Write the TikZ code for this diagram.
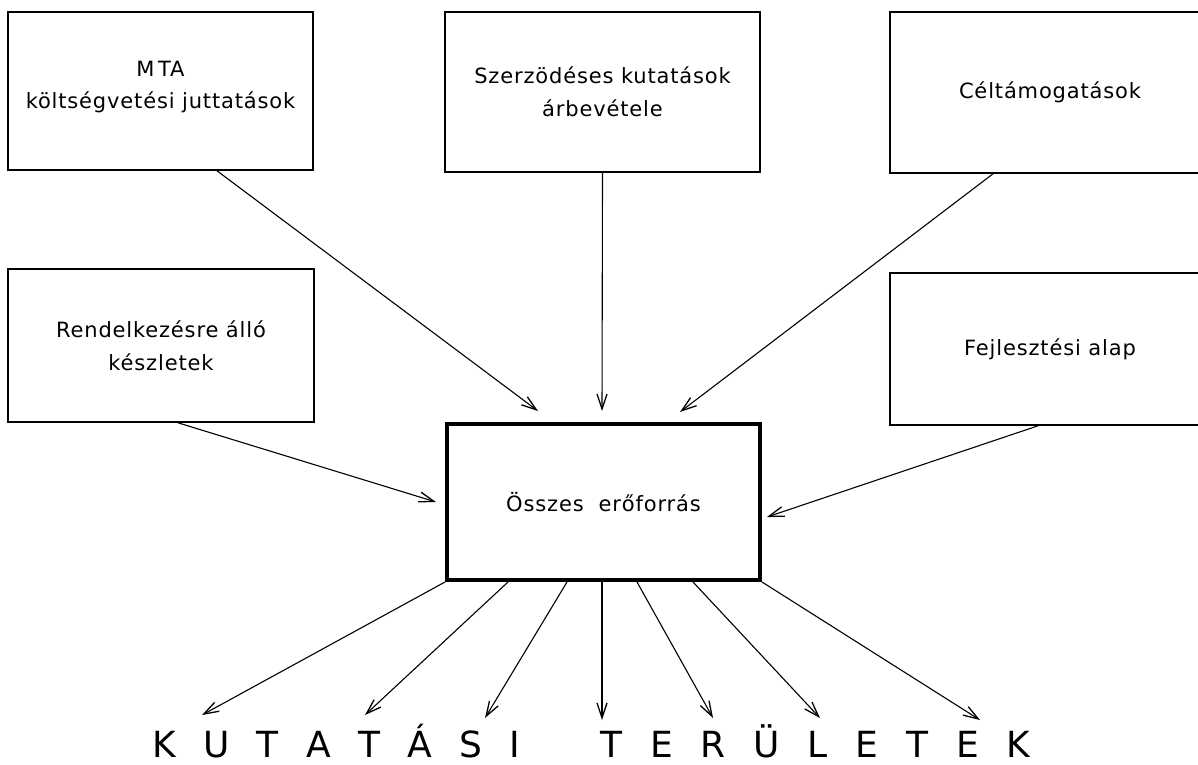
\documentclass[tikz,border=0pt]{standalone}
\usepackage{fontspec}
\setmainfont{DejaVu Sans}[LetterSpace=4]
\usetikzlibrary{arrows.meta}
\tikzset{
  srcbox/.style={draw, line width=1.6pt, inner sep=0pt, align=center,
    font=\fontsize{21}{33}\selectfont},
  hubbox/.style={draw, line width=4pt, inner sep=0pt, align=center,
    font=\fontsize{21}{33}\selectfont},
  arr/.style={line width=1.1pt, -{Straight Barb[length=15pt,width=10pt,line width=1.3pt]}},
  bigword/.style={inner sep=0pt, anchor=base west, text depth=0pt,
    font=\fontsize{36}{40}\selectfont}
}
\begin{document}
\begin{tikzpicture}[x=1pt,y=-1pt]
\useasboundingbox (0,0) rectangle (1198,764);
\clip (0,0) rectangle (1198,764);

% source boxes
\node[srcbox, minimum width=305pt, minimum height=158pt] (mta) at (160.5,91) {};
\node[align=center, inner sep=0pt, font=\fontsize{21}{33}\selectfont] (mtatext)
  at (160.5,87) {M\,TA\\[-1pt]költségvetési juttatások};
\node[srcbox, minimum width=315pt, minimum height=160pt] (szerz) at (602.5,92)
  {Szerzödéses kutatások\\árbevétele};
\node[srcbox, minimum width=320pt, minimum height=161pt] (celt) at (1050,92.5)
  {Céltámogatások};
\node[srcbox, minimum width=306pt, minimum height=153pt] (rend) at (161,345.5)
  {Rendelkezésre álló\\készletek};
\node[srcbox, minimum width=320pt, minimum height=152pt] (fejl) at (1050,349)
  {Fejlesztési\ alap};

% central box
\node[hubbox, minimum width=313pt, minimum height=156pt] (ctr) at (603.5,502)
  {Összes\ \ erőforrás};

% inflows
\draw[arr] ([xshift=56.5pt]mta.south) -- ([xshift=-65.5pt,yshift=11pt]ctr.north);
\draw[arr] (szerz.south) -- ([xshift=-1.5pt,yshift=11pt]ctr.north);
\draw[arr] ([xshift=-57pt]celt.south) -- ([xshift=76.5pt,yshift=10pt]ctr.north);
\draw[arr] ([xshift=17pt]rend.south) -- ([xshift=-9pt]ctr.west);
\draw[arr] ([xshift=-12pt]fejl.south) -- ([xshift=5pt,yshift=-15pt]ctr.east);

% research areas
\coordinate (t1) at (202,715);
\coordinate (t2) at (365,715);
\coordinate (t3) at (485,718);
\coordinate (t4) at (602,720);
\coordinate (t5) at (713,718);
\coordinate (t6) at (820,718);
\coordinate (t7) at (980,720);
\draw[arr] (ctr.south west) -- (t1);
\draw[arr] ([xshift=-95.5pt]ctr.south) -- (t2);
\draw[arr] ([xshift=-36.5pt]ctr.south) -- (t3);
\draw[arr] ([xshift=-1.5pt]ctr.south) -- (t4);
\draw[arr] ([xshift=33.5pt]ctr.south) -- (t5);
\draw[arr] ([xshift=89.5pt]ctr.south) -- (t6);
\draw[arr] (ctr.south east) -- (t7);

\node[bigword] (w1) at (152,757) {\makebox[368pt][s]{K U T A T Á S I}};
\node[bigword] (w2) at (600,757) {\makebox[430pt][s]{T E R Ü L E T E K}};
\end{tikzpicture}
\end{document}
